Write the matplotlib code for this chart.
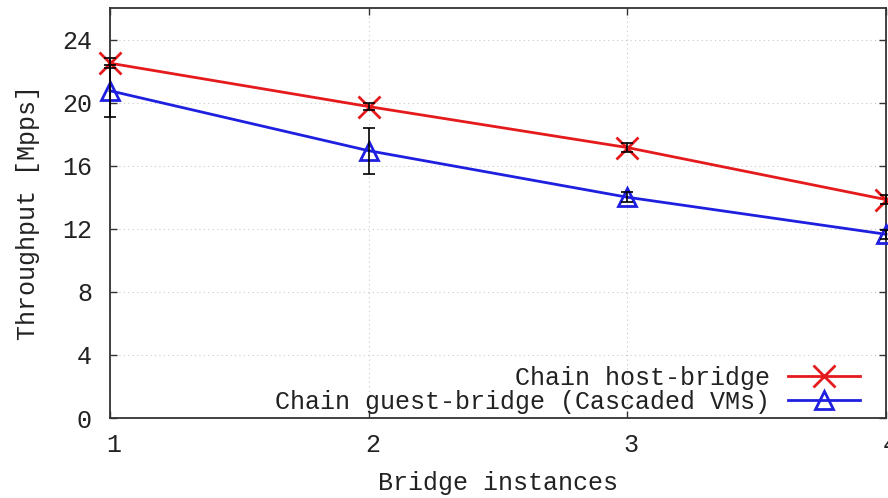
import matplotlib
matplotlib.use("Agg")
import matplotlib.pyplot as plt
import matplotlib.transforms as mtransforms

# Throughput per number of chained bridge instances
instances = [1, 2, 3, 4]
host_bridge = [22.5, 19.75, 17.15, 13.85]
host_bridge_err = [0.3, 0.25, 0.3, 0.3]
guest_bridge = [20.75, 16.95, 14.0, 11.65]
guest_bridge_err = [1.65, 1.45, 0.3, 0.3]
y_ticks = [0, 4, 8, 12, 16, 20, 24]

plt.rcParams['font.family'] = ['Liberation Mono', 'DejaVu Sans Mono']
plt.rcParams['font.size'] = 18

fig = plt.figure(figsize=(8.88, 4.98), dpi=100)
ax = fig.add_axes([110 / 888, 80 / 498, 776 / 888, 410 / 498])

ax.errorbar(instances, host_bridge, yerr=host_bridge_err, fmt='none',
            ecolor='black', elinewidth=1.2, capsize=4, capthick=1.2,
            zorder=4, clip_on=False)
ax.errorbar(instances, guest_bridge, yerr=guest_bridge_err, fmt='none',
            ecolor='black', elinewidth=1.2, capsize=4, capthick=1.2,
            zorder=4, clip_on=False)

ax.plot(instances, host_bridge, color='#e41a1c', lw=2, marker='x',
        markersize=16, markeredgewidth=2, clip_on=False, zorder=3,
        label='Chain host-bridge')
ax.plot(instances, guest_bridge, color='#1f1fe0', lw=2, marker='^',
        markersize=13, markeredgewidth=2, markerfacecolor='none',
        clip_on=False, zorder=3,
        label='Chain guest-bridge (Cascaded VMs)')

ax.set_xlim(1, 4)
ax.set_ylim(0, 26)
ax.set_xticks(instances)
ax.set_yticks(y_ticks)
ax.grid(True, color='#c8c8c8', linestyle=(0, (1, 3)), linewidth=0.8)
ax.set_axisbelow(True)

ax.tick_params(direction='in', length=5, width=1, top=True, right=True,
               colors='#333333', labelcolor='#222222')
ax.tick_params(axis='x', pad=11)
ax.tick_params(axis='y', pad=13)
for lab in ax.get_xticklabels():
    lab.set_transform(lab.get_transform() +
                      mtransforms.ScaledTranslation(4 / 100, 0, fig.dpi_scale_trans))

for sp in ax.spines.values():
    sp.set_color('#333333')
    sp.set_linewidth(1.3)

ax.set_xlabel('Bridge instances', color='#222222', labelpad=10)
ax.set_ylabel('Throughput [Mpps]', color='#222222', labelpad=16)

leg = ax.legend(loc='lower right', bbox_to_anchor=(750 / 776, 4 / 410),
                markerfirst=False, frameon=False,
                handlelength=2.9, handletextpad=0.7, labelspacing=0.0,
                borderaxespad=0.0, borderpad=0.0)
for t in leg.get_texts():
    t.set_color('#222222')

fig.savefig('out.png', dpi=100)
